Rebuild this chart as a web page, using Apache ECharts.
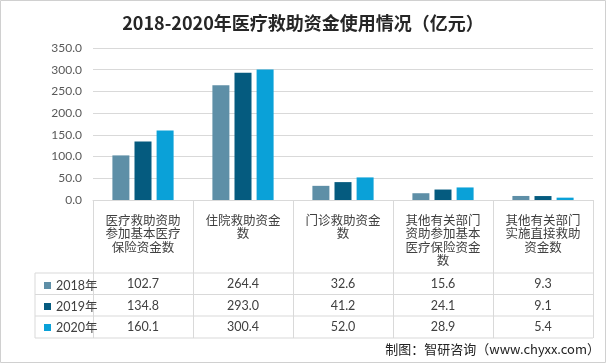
<!DOCTYPE html>
<html><head><meta charset="utf-8">
<script src="https://cdn.jsdelivr.net/npm/echarts@6/dist/echarts.min.js"></script>
<style>html,body{margin:0;padding:0;background:#fff}#c{width:606px;height:363px}</style>
</head><body><div id="c"></div>
<script>
var categories = ['医疗救助资助\n参加基本医疗\n保险资金数', '住院救助资金\n数', '门诊救助资金\n数', '其他有关部门\n资助参加基本\n医疗保险资金\n数', '其他有关部门\n实施直接救助\n资金数'];
var years = ['2018年', '2019年', '2020年'];
var values2018 = [102.7, 264.4, 32.6, 15.6, 9.3];
var values2019 = [134.8, 293.0, 41.2, 24.1, 9.1];
var values2020 = [160.1, 300.4, 52.0, 28.9, 5.4];
var yTicks = {min: 0, max: 350, interval: 50};
var colors = ['#5E8FA7', '#055B7F', '#0AA1D8'];
var title = '2018-2020年医疗救助资金使用情况（亿元）';
var footer = '制图：智研咨询（www.chyxx.com）';

var FONT = "Lato, 'Noto Sans CJK SC', sans-serif";
var seriesValues = [values2018, values2019, values2020];
var G = {left: 93, right: 13, top: 48, bottom: 163};
var W = 606, H = 363;
var axisY = H - G.bottom;           // 200
var rowLines = [273, 294.5, 316, 338];
var rowCenters = [283.5, 305.5, 327];
var tableLeft = 35;
var lineColor = '#D9D9D9';

var xAxes = [{
  type: 'category', data: categories, gridIndex: 0,
  axisLine: {show: true, lineStyle: {color: lineColor}},
  axisTick: {show: true, length: rowLines[3] - axisY, lineStyle: {color: lineColor}},
  axisLabel: {color: '#404040', fontSize: 12.5, lineHeight: 13.5, margin: 14, verticalAlign: 'top', fontFamily: FONT, interval: 0}
}];
seriesValues.forEach(function (vals, i) {
  xAxes.push({
    type: 'category', gridIndex: 0, position: 'bottom', offset: rowCenters[i] - axisY,
    data: vals.map(function (v) { return v.toFixed(1); }),
    axisLine: {show: false}, axisTick: {show: false},
    axisLabel: {color: '#404040', fontSize: 12.5, margin: 0, verticalAlign: 'middle', fontFamily: FONT, interval: 0}
  });
});

var graphics = [];
rowLines.forEach(function (y) {
  graphics.push({type: 'line', shape: {x1: tableLeft, y1: y, x2: W - G.right, y2: y}, style: {stroke: lineColor, lineWidth: 1}, silent: true});
});
graphics.push({type: 'line', shape: {x1: tableLeft, y1: rowLines[0], x2: tableLeft, y2: rowLines[3]}, style: {stroke: lineColor, lineWidth: 1}});
graphics.push({type: 'rect', shape: {x: 0.5, y: 0.5, width: W - 1, height: H - 1}, style: {fill: 'none', stroke: '#D0D0D0', lineWidth: 1}, silent: true});
graphics.push({type: 'text', right: 6, top: 343, style: {text: footer, fill: '#222', font: "13px 'Noto Sans CJK SC', sans-serif"}});

var chart = echarts.init(document.getElementById('c'), null, {renderer: 'canvas'});
chart.setOption({
  animation: false,
  backgroundColor: '#fff',
  title: {text: title, left: 'center', top: 9, textStyle: {fontSize: 18, fontWeight: 'bold', color: '#262626', fontFamily: "'Noto Sans CJK SC', sans-serif"}},
  grid: {left: G.left, right: G.right, top: G.top, bottom: G.bottom, containLabel: false},
  legend: {
    orient: 'vertical', left: 39, top: rowCenters[0] - 10, itemGap: 7, itemWidth: 7, itemHeight: 7, icon: 'rect',
    data: years, textStyle: {color: '#404040', fontSize: 12.5, lineHeight: 14, fontFamily: FONT}
  },
  xAxis: xAxes,
  yAxis: {
    type: 'value', min: yTicks.min, max: yTicks.max, interval: yTicks.interval,
    axisLine: {show: false}, axisTick: {show: false},
    axisLabel: {color: '#595959', fontSize: 12, margin: 11, fontFamily: FONT, formatter: function (v) { return v.toFixed(1); }},
    splitLine: {lineStyle: {color: lineColor}}
  },
  series: seriesValues.map(function (vals, i) {
    return {name: years[i], type: 'bar', xAxisIndex: 0, data: vals, barWidth: 17, barGap: '30%', itemStyle: {color: colors[i]}};
  }),
  graphic: graphics
});
</script></body></html>
